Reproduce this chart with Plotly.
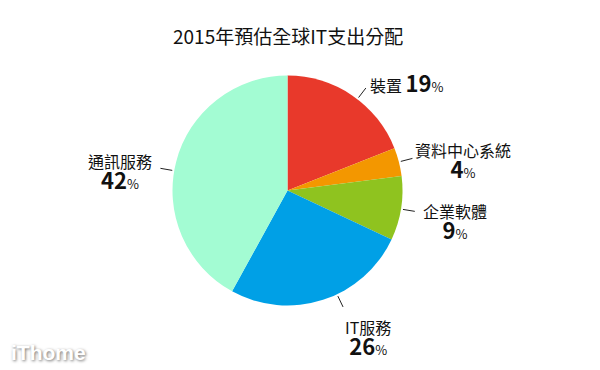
import math
import plotly.graph_objects as go

# ---- data ----
labels = ["裝置", "資料中心系統", "企業軟體", "IT服務", "通訊服務"]
values = [19, 4, 9, 26, 42]
title_text = "2015年預估全球IT支出分配"

# ---- styles / layout ----
colors = ["#E8392B", "#F39700", "#8FC31F", "#00A0E6", "#A3FCD3"]
W, H = 600, 370
CX, CY, R = 287.5, 190.5, 115
FONT = "Noto Sans CJK TC, Noto Sans, sans-serif"

# leader-line angle tweak (deg) and label placement relative to leader end
leader_tweak = [3.2, 0, 0.3, -7.5, -4.5]
label_place = [
    dict(xanchor="left", yanchor="middle", xshift=2, yshift=6, oneline=True),
    dict(xanchor="left", yanchor="middle", xshift=1, yshift=-3, oneline=False),
    dict(xanchor="left", yanchor="middle", xshift=6, yshift=-11, oneline=False),
    dict(xanchor="center", yanchor="top", xshift=25, yshift=-6, oneline=False),
    dict(xanchor="right", yanchor="middle", xshift=-6, yshift=-4, oneline=False),
]


def px2paper(x, y):
    return x / W, 1 - y / H


fig = go.Figure()
fig.add_trace(go.Pie(
    labels=labels, values=values, sort=False, direction="clockwise", rotation=0,
    marker=dict(colors=colors, line=dict(width=0)),
    textinfo="none", hoverinfo="label+percent", showlegend=False,
    domain=dict(x=[(CX - R) / W, (CX + R) / W], y=[(H - CY - R) / H, (H - CY + R) / H]),
))

total = sum(values)
cum = 0
shapes, annotations = [], []
for i, (lab, v) in enumerate(zip(labels, values)):
    mid = (cum + v / 2) / total * 360 + leader_tweak[i]
    cum += v
    a = math.radians(mid)
    dx, dy = math.sin(a), -math.cos(a)
    x0, y0 = CX + (R + 2) * dx, CY + (R + 2) * dy
    x1, y1 = CX + (R + 14) * dx, CY + (R + 14) * dy
    p0, p1 = px2paper(x0, y0), px2paper(x1, y1)
    shapes.append(dict(type="line", xref="paper", yref="paper",
                       x0=p0[0], y0=p0[1], x1=p1[0], y1=p1[1],
                       line=dict(color="#222222", width=1)))
    pct = round(v / total * 100)
    num = f"<b><span style='font-size:22px'>{pct}</span></b><span style='font-size:13px'>%</span>"
    pl = label_place[i]
    text = f"{lab} {num}" if pl["oneline"] else f"{lab}<br>{num}"
    annotations.append(dict(
        text=text, x=p1[0], y=p1[1], xref="paper", yref="paper",
        xanchor=pl["xanchor"], yanchor=pl["yanchor"], xshift=pl["xshift"], yshift=pl["yshift"],
        showarrow=False, align="center", font=dict(family=FONT, size=16, color="#111111"),
    ))

annotations.append(dict(
    text=title_text, x=287.5 / W, y=1 - 35 / H, xref="paper", yref="paper",
    xanchor="center", yanchor="middle", showarrow=False,
    font=dict(family=FONT, size=19, color="#111111"),
))
annotations.append(dict(
    text="<b>iThome</b>", x=9 / W, y=1 - 352 / H, xref="paper", yref="paper",
    xanchor="left", yanchor="middle", showarrow=False,
    font=dict(family="Liberation Sans, Arial, sans-serif", size=21, color="#FFFFFF",
              shadow="1px 1px 3px rgba(0,0,0,0.55)"),
))

fig.update_layout(
    width=W, height=H, margin=dict(l=0, r=0, t=0, b=0),
    paper_bgcolor="white", plot_bgcolor="white",
    shapes=shapes, annotations=annotations,
)
fig.write_html("out.html", config={"displayModeBar": False},
               post_script="document.body.style.margin='0';document.body.style.overflow='hidden';")
